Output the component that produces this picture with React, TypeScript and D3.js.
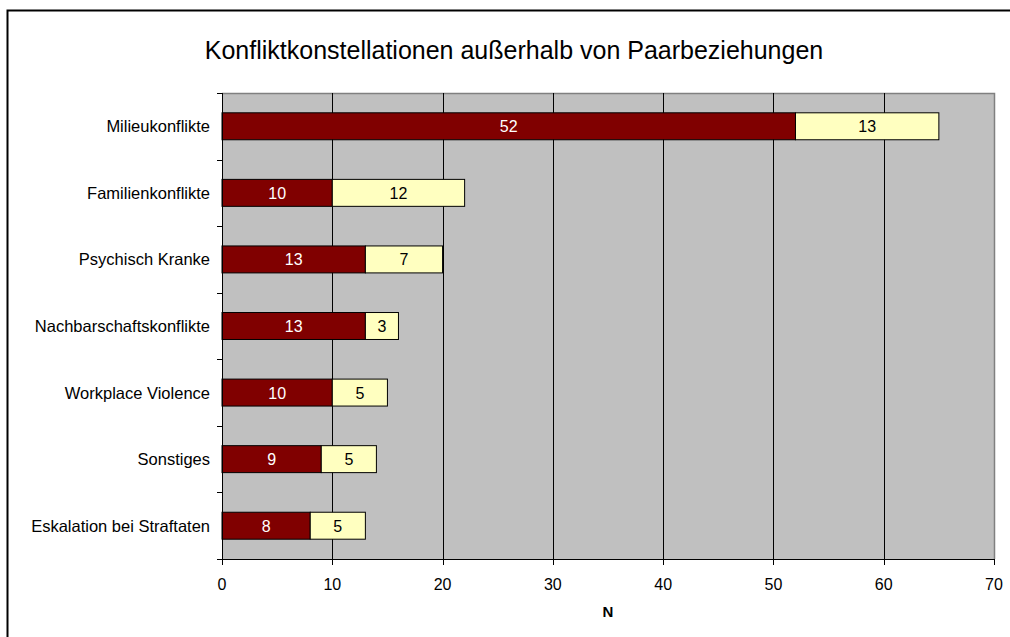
import { useEffect, useRef } from 'react';
import * as d3 from 'd3';

const categories = [
  'Milieukonflikte',
  'Familienkonflikte',
  'Psychisch Kranke',
  'Nachbarschaftskonflikte',
  'Workplace Violence',
  'Sonstiges',
  'Eskalation bei Straftaten',
];
const darkValues = [52, 10, 13, 13, 10, 9, 8];
const lightValues = [13, 12, 7, 3, 5, 5, 5];
const xTicks = [0, 10, 20, 30, 40, 50, 60, 70];

const WIDTH = 1010;
const HEIGHT = 637;
const FONT = 'Arial, "Liberation Sans", sans-serif';

const App = () => {
  const svgRef = useRef<SVGSVGElement>(null);

  useEffect(() => {
    if (!svgRef.current) return;
    const svg = d3.select(svgRef.current);
    svg.selectAll('*').remove();

    const left = 222;
    const right = 994;
    const top = 93;
    const bottom = 559;

    const x = d3.scaleLinear().domain([0, 70]).range([left, right]);
    const y = d3.scaleBand<string>().domain(categories).range([top, bottom]).paddingInner(0.595).paddingOuter(0.2975);

    // outer frame
    svg.append('rect')
      .attr('x', 7.5).attr('y', 10.5)
      .attr('width', WIDTH).attr('height', HEIGHT)
      .attr('fill', 'white').attr('stroke', 'black').attr('stroke-width', 2);

    // title
    svg.append('text')
      .attr('x', 514).attr('y', 58.5)
      .attr('text-anchor', 'middle')
      .attr('font-size', 25)
      .attr('font-family', FONT)
      .text('Konfliktkonstellationen außerhalb von Paarbeziehungen');

    // plot area
    svg.append('rect')
      .attr('x', left).attr('y', top)
      .attr('width', right - left).attr('height', bottom - top)
      .attr('fill', '#C0C0C0');
    svg.append('path')
      .attr('d', `M${left},${top + 0.5}H${right + 0.5}V${bottom}`)
      .attr('fill', 'none').attr('stroke', '#808080').attr('stroke-width', 1.5);

    // gridlines
    svg.append('g')
      .selectAll('line')
      .data(xTicks.filter((t) => t > 0 && t < 70))
      .enter()
      .append('line')
      .attr('x1', (d) => Math.round(x(d)) + 0.5).attr('x2', (d) => Math.round(x(d)) + 0.5)
      .attr('y1', top).attr('y2', bottom)
      .attr('stroke', 'black').attr('stroke-width', 1);

    // bars
    const rows = categories.map((c, i) => ({ c, a: darkValues[i], b: lightValues[i] }));
    const g = svg.append('g').selectAll('g').data(rows).enter().append('g');

    g.append('rect')
      .attr('x', x(0))
      .attr('y', (d) => y(d.c)!)
      .attr('width', (d) => x(d.a) - x(0))
      .attr('height', y.bandwidth())
      .attr('fill', '#800000').attr('stroke', 'black').attr('stroke-width', 1);
    g.append('rect')
      .attr('x', (d) => x(d.a))
      .attr('y', (d) => y(d.c)!)
      .attr('width', (d) => x(d.a + d.b) - x(d.a))
      .attr('height', y.bandwidth())
      .attr('fill', '#FFFFC0').attr('stroke', 'black').attr('stroke-width', 1);

    g.append('text')
      .attr('x', (d) => (x(0) + x(d.a)) / 2)
      .attr('y', (d) => y(d.c)! + y.bandwidth() / 2 + 6)
      .attr('text-anchor', 'middle').attr('font-size', 16).attr('font-family', FONT)
      .attr('fill', 'white')
      .text((d) => d.a);
    g.append('text')
      .attr('x', (d) => (x(d.a) + x(d.a + d.b)) / 2)
      .attr('y', (d) => y(d.c)! + y.bandwidth() / 2 + 6)
      .attr('text-anchor', 'middle').attr('font-size', 16).attr('font-family', FONT)
      .attr('fill', 'black')
      .text((d) => d.b);

    // y axis
    svg.append('line')
      .attr('x1', left + 0.5).attr('x2', left + 0.5)
      .attr('y1', top).attr('y2', bottom)
      .attr('stroke', 'black');
    const step = (bottom - top) / categories.length;
    svg.append('g')
      .selectAll('line')
      .data(d3.range(categories.length + 1))
      .enter()
      .append('line')
      .attr('x1', left - 5).attr('x2', left)
      .attr('y1', (i) => Math.round(top + i * step) + 0.5)
      .attr('y2', (i) => Math.round(top + i * step) + 0.5)
      .attr('stroke', 'black');
    svg.append('g')
      .selectAll('text')
      .data(categories)
      .enter()
      .append('text')
      .attr('x', 210)
      .attr('y', (d) => y(d)! + y.bandwidth() / 2 + 6)
      .attr('text-anchor', 'end').attr('font-size', 16.5).attr('font-family', FONT)
      .text((d) => d);

    // x axis
    svg.append('line')
      .attr('x1', left).attr('x2', right + 1)
      .attr('y1', bottom + 0.5).attr('y2', bottom + 0.5)
      .attr('stroke', 'black');
    const xg = svg.append('g').selectAll('g').data(xTicks).enter().append('g');
    xg.append('line')
      .attr('x1', (d) => Math.round(x(d)) + 0.5).attr('x2', (d) => Math.round(x(d)) + 0.5)
      .attr('y1', bottom).attr('y2', bottom + 6)
      .attr('stroke', 'black');
    xg.append('text')
      .attr('x', (d) => x(d))
      .attr('y', 590)
      .attr('text-anchor', 'middle').attr('font-size', 16).attr('font-family', FONT)
      .text((d) => d);

    svg.append('text')
      .attr('x', 608).attr('y', 617)
      .attr('text-anchor', 'middle').attr('font-size', 15).attr('font-weight', 'bold')
      .attr('font-family', FONT)
      .text('N');
  }, []);

  return (
    <svg
      ref={svgRef}
      width={WIDTH}
      height={HEIGHT}
      style={{ position: 'absolute', left: 0, top: 0, display: 'block' }}
    />
  );
};

export default App;
